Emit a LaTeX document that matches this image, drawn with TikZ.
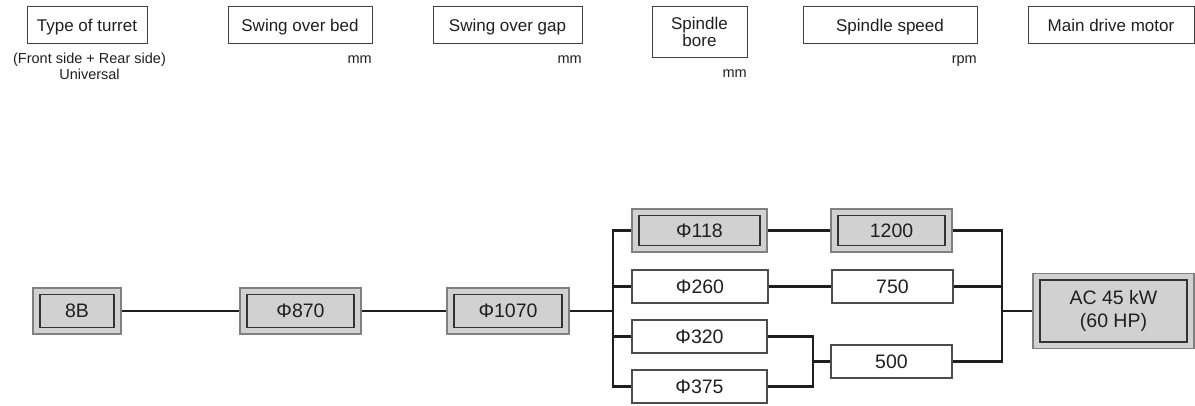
\documentclass[tikz,border=0pt]{standalone}
\usepackage{fontspec}
\setmainfont{Liberation Sans}
\begin{document}
\begin{tikzpicture}[x=1pt,y=-1pt,
  every node/.style={inner sep=0pt, text=black!88},
  hdr/.style={draw=black!75, line width=0.9pt, font=\fontsize{17}{17}\selectfont},
  hone/.style={hdr, text height=14pt, text depth=1pt},
  sub/.style={font=\fontsize{14.5}{16}\selectfont},
  wbox/.style={draw=black!70, line width=1.4pt, fill=white, font=\fontsize{19.5}{23}\selectfont},
  gbox/.style={draw=black!50, line width=1.3pt, fill=black!18, font=\fontsize{19.5}{23}\selectfont,
    path picture={\draw[black!80, line width=1.4pt]
      ([shift={(7pt,-6.5pt)}]path picture bounding box.north west) rectangle
      ([shift={(-7pt,6.5pt)}]path picture bounding box.south east);}},
  conn/.style={draw=black!88, line width=2.3pt}
]
\useasboundingbox (0,0) rectangle (1195,405);

% header boxes
\node[hone, minimum width=120, minimum height=37] (h1) at (87,24.5) {Type of turret};
\node[hone, minimum width=144, minimum height=37] (h2) at (300,24.5) {Swing over bed};
\node[hone, minimum width=149, minimum height=37] (h3) at (507.5,24.5) {Swing over gap};
\node[hdr, align=center, minimum width=95, minimum height=51] (h4) at (699.5,32) {Spindle\\bore};
\node[hone, minimum width=174, minimum height=37] (h5) at (890,24.5) {Spindle speed};
\node[hone, minimum width=166, minimum height=37] (h6) at (1111,24.5) {Main drive motor};

% sub labels
\node[sub, anchor=base] (s1a) at (89.5,63.5) {(Front side + Rear side)};
\node[sub, anchor=base] (s1b) at (89.5,79.5) {Universal};
\node[sub, anchor=base east] (s2) at (372,63.5) {mm};
\node[sub, anchor=base east] (s3) at (582,63.5) {mm};
\node[sub, anchor=base east] (s4) at (747,77.5) {mm};
\node[sub, anchor=base east] (s5) at (977,63.5) {rpm};

% main boxes
\node[gbox, minimum width=88, minimum height=46] (b8) at (77,311) {8B};
\node[gbox, minimum width=121, minimum height=46] (b870) at (300.5,311) {Φ870};
\node[gbox, minimum width=122, minimum height=46] (b1070) at (508,311) {Φ1070};
\node[gbox, minimum width=135, minimum height=43] (b118) at (699.5,230.5) {Φ118};
\node[gbox, minimum width=121, minimum height=43] (b1200) at (891.5,230.5) {1200};
\node[wbox, minimum width=136, minimum height=33] (b260) at (700,286.5) {Φ260};
\node[wbox, minimum width=121, minimum height=33] (b750) at (892.5,286.5) {750};
\node[wbox, minimum width=135, minimum height=33] (b320) at (699.5,336.5) {Φ320};
\node[wbox, minimum width=135, minimum height=33] (b375) at (699.5,386.5) {Φ375};
\node[wbox, minimum width=121, minimum height=33] (b500) at (891.5,361.5) {500};
\node[gbox, align=center, minimum width=161, minimum height=75] (motor) at (1113.5,311) {AC 45 kW\\(60 HP)};

% junctions
\coordinate (j1) at (613,311);
\coordinate (j2) at (813,361.5);
\coordinate (j3) at (1002,311);

% connectors
\draw[conn] (b8.east) -- (b870.west);
\draw[conn] (b870.east) -- (b1070.west);
\draw[conn] (b1070.east) -- (j1);
\draw[conn] (b118.west) -| (j1);
\draw[conn] (b375.west) -| (j1);
\draw[conn] (b260.west) -- (b260.west -| j1);
\draw[conn] (b320.west) -- (b320.west -| j1);
\draw[conn] (b118.east) -- (b1200.west);
\draw[conn] (b260.east) -- (b750.west);
\draw[conn] (b320.east) -| (j2);
\draw[conn] (b375.east) -| (j2);
\draw[conn] (j2) -- (b500.west);
\draw[conn] (b1200.east) -| (j3);
\draw[conn] (b500.east) -| (j3);
\draw[conn] (b750.east) -- (b750.east -| j3);
\draw[conn] (j3) -- (motor.west);
\end{tikzpicture}
\end{document}
